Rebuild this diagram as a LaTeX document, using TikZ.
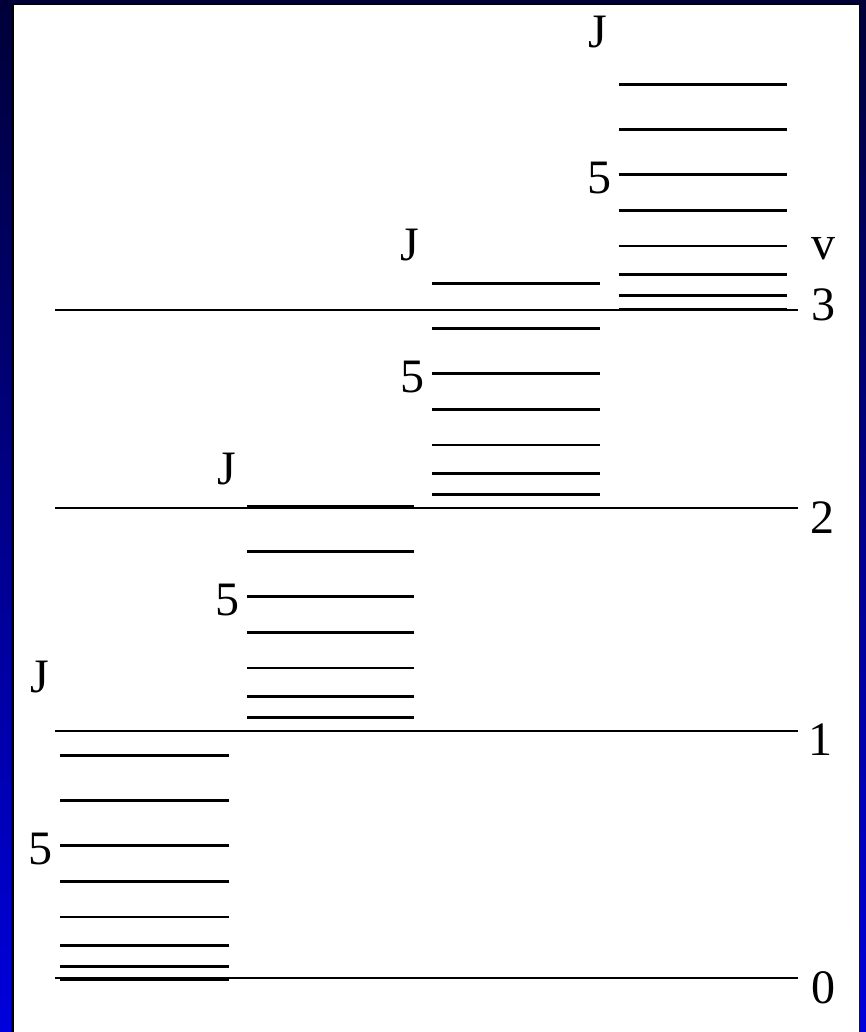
\documentclass[tikz,border=0pt]{standalone}
\usepackage{fontspec}
\setmainfont{Liberation Serif}
\usepackage{tikz}
\usetikzlibrary{positioning}
\definecolor{framenavy}{HTML}{000038}
\definecolor{frameblue}{HTML}{0000DC}
\tikzset{
    level/.style={line width=1.8pt, line cap=butt},
    lbl/.style={font=\fontsize{36}{40}\selectfont, inner sep=0pt}
}
\begin{document}
\begin{tikzpicture}[x=0.75pt, y=-0.75pt]
    \useasboundingbox (0,0) rectangle (866,1032);
    % Frame
    \shade[top color=framenavy, bottom color=frameblue] (0,0) rectangle (866,1032);
    \fill[black] (11,3) rectangle (859,1032);
    \fill[white] (13.5,4.5) rectangle (859,1032);
    % Vibrational levels
    \foreach \v/\y/\lx/\ly in {0/978/823/988, 1/731/820/740, 2/508/822/518, 3/310/823/305} {
        \coordinate (vs\v) at (55,\y);
        \coordinate (ve\v) at (798,\y);
        \draw[level] (vs\v) -- (ve\v);
        \node[lbl] (vnum\v) at (\lx,\ly) {\v};
    }
    \node[lbl] (vname) at (823,249) {v};
    % Rotational ladders
    \foreach \i/\xa/\xb/\base/\jx/\jy in {1/60/229/980/40/677, 2/247/414/731/227/469, 3/432/600/508/410/245, 4/619/787/309/598/32} {
        \foreach \d [count=\k from 0] in {0,13.5,34.5,63,98.5,134.5,179.5,224.5} {
            \coordinate (a\i-\k) at (\xa,\base-\d);
            \coordinate (b\i-\k) at (\xb,\base-\d);
            \draw[level] (a\i-\k) -- (b\i-\k);
        }
        \node[lbl, anchor=east] (five\i) at (\xa-7,\base-130.5) {5};
        \node[lbl] (J\i) at (\jx,\jy) {J};
    }
\end{tikzpicture}
\end{document}
